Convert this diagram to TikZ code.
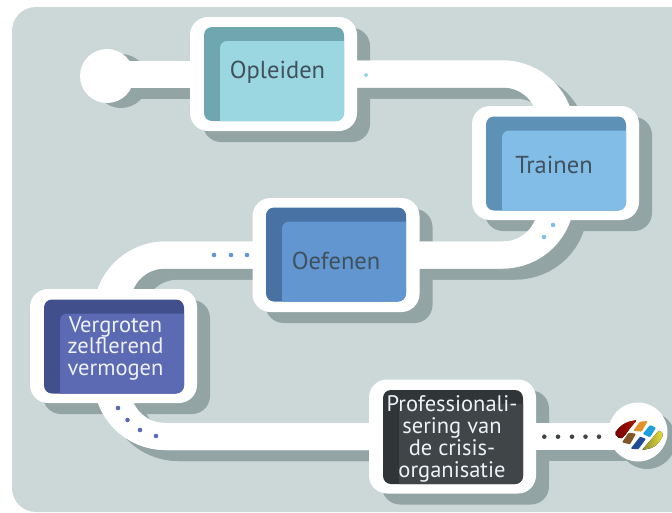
\documentclass[tikz,border=0pt]{standalone}
\usepackage{fontspec}
\setmainfont{PT Sans}
\pgfdeclarelayer{shad}
\pgfdeclarelayer{pipes}
\pgfsetlayers{shad,pipes,main}
\definecolor{bgc}{HTML}{CCD8D8}
\definecolor{shc}{HTML}{93A4A5}
\definecolor{tdark}{HTML}{3F515C}
\definecolor{twhite}{HTML}{EEF2F8}
\definecolor{aD}{HTML}{6FA6AF}\definecolor{aL}{HTML}{9BD7E0}
\definecolor{bD}{HTML}{5D91B5}\definecolor{bL}{HTML}{82BDE8}
\definecolor{cD}{HTML}{4872A3}\definecolor{cL}{HTML}{6296D0}
\definecolor{dD}{HTML}{41508C}\definecolor{dL}{HTML}{5C69B3}
\definecolor{eD}{HTML}{303537}\definecolor{eL}{HTML}{404548}
\tikzset{
  frame/.style={fill=white,rounded corners=18pt,minimum width=167pt,minimum height=114pt,inner sep=0pt,outer sep=0pt},
  card/.style 2 args={rounded corners=8pt,minimum width=140pt,minimum height=94pt,inner sep=0pt,outer sep=0pt,fill=#1,
    path picture={\fill[#2,rounded corners=7pt] ([shift={(16,14)}]path picture bounding box.north west) rectangle ([shift={(12,12)}]path picture bounding box.south east);}},
  lbl/.style={inner sep=0pt,outer sep=0pt,align=center,font=\fontsize{24.5}{21.5}\selectfont,text=#1},
  lblm/.style 2 args={inner sep=0pt,outer sep=0pt,align=center,font=\fontsize{22.5}{#2}\selectfont,text=#1},
  disc/.style={circle,fill=white,inner sep=0pt,outer sep=0pt,minimum size=#1},
  pipe/.style={line width=27pt},
  pipeA/.style={line width=27pt,rounded corners=48pt},
  pipeB/.style={line width=27pt,rounded corners=58pt},
  dotm/.style={circle,fill=#1,inner sep=0pt,outer sep=0pt,minimum size=4.6pt},
}
\newcommand{\allpipes}[1]{%
  \draw[pipe,#1] (start.center |- opleiden.center) -- (opleiden.center);
  \draw[pipeA,#1] (opleiden.center) -| ([xshift=-4.5pt]trainen.center);
  \draw[pipeB,#1] (opleiden.center) -| ([xshift=5.5pt]trainen.center);
  \draw[pipeA,#1] ([xshift=-4.5pt]trainen.center) |- (oefenen.center);
  \draw[pipeB,#1] ([xshift=5.5pt]trainen.center) |- (oefenen.center);
  \draw[pipeA,#1] (oefenen.center) -| ([xshift=3.5pt]vergroten.center);
  \draw[pipeB,#1] (oefenen.center) -| ([xshift=-6.5pt]vergroten.center);
  \draw[pipeA,#1] ([xshift=3.5pt]vergroten.center) |- (prof.center);
  \draw[pipeB,#1] ([xshift=-6.5pt]vergroten.center) |- (prof.center);
  \draw[pipe,#1] (prof.center) -- (eind.center |- prof.center);
}
\begin{document}
\begin{tikzpicture}[x=1pt,y=-1pt]
\useasboundingbox (0,0) rectangle (672,512);
\clip (0,0) rectangle (672,512);
% background
\begin{pgfonlayer}{shad}
\fill[bgc,rounded corners=24pt] (12,7) rectangle (720,512);
\end{pgfonlayer}
% frames
\node[frame] (opleiden) at (273.5,74) {};
\node[frame] (trainen) at (555.5,163) {};
\node[frame] (oefenen) at (336,255) {};
\node[frame] (vergroten) at (113.5,346) {};
\node[frame] (prof) at (452.5,436.5) {};
\node[disc=54pt] (start) at (107,76) {};
\node[disc=59pt] (eind) at (638,432) {};
% shadows
\begin{pgfonlayer}{shad}
\foreach \n in {opleiden,trainen,oefenen,vergroten,prof}{
  \fill[shc,rounded corners=18pt,transform canvas={shift={(13pt,-11pt)}}] (\n.south west) rectangle (\n.north east);
}
\fill[shc] (121,81) circle[radius=27];
\fill[shc] (647,440) circle[radius=29];
\begin{scope}[transform canvas={shift={(13pt,-11pt)}}]
\allpipes{shc}
\end{scope}
\end{pgfonlayer}
% connectors
\begin{pgfonlayer}{pipes}
\allpipes{white}
\end{pgfonlayer}
% cards
\node[card={aD}{aL}] (c1) at (274,74) {};
\node[card={bD}{bL}] (c2) at (556,163.5) {};
\node[card={cD}{cL}] (c3) at (336,254.5) {};
\node[card={dD}{dL}] (c4) at (114,346.5) {};
\node[card={eD}{eL}] (c5) at (453,437) {};
% labels
\node[lbl=tdark] (t1) at (277.5,72.5) {Opleiden};
\node[lbl=tdark] (t2) at (554,165) {Trainen};
\node[lbl=tdark] (t3) at (336,260.5) {Oefenen};
\node[lblm={twhite}{21.5}] (t4) at (115.5,348.5) {Vergroten\\zelflerend\\vermogen};
\node[lblm={twhite}{22}] (t5) at (452,439) {Professionali-\\sering van\\de crisis-\\organisatie};
% dots
\node[dotm=aL,minimum size=4pt] (d1) at (366,75) {};
\node[dotm=bL] (d2) at (553,225) {};
\node[dotm=bL] (d3) at (544,237) {};
\foreach \x/\i in {214/a,231/b,247/c}{\node[dotm=cL] (d4\i) at (\x,255) {};}
\node[dotm=dL] (d5) at (118,408) {};
\node[dotm=dL] (d6) at (127.5,420) {};
\node[dotm=dL] (d7) at (140,430) {};
\node[dotm=dL] (d8) at (156,436) {};
\foreach \x/\i in {544.3/a,558/b,572/c,585.5/d,599/e}{\node[dotm=eL] (d9\i) at (\x,436.7) {};}
% logo
\begin{scope}[shift={(600,400)},scale=1/3]
\fill[left color=red!45!black,right color=red!60!black!80!orange,rounded corners=2pt] (43,100) -- (62,78) -- (82,66) -- (111,60) -- (92,82) -- (72,110) -- (60,118) -- cycle;
\fill[color={rgb,255:red,226;green,146;blue,40},rounded corners=1pt] (100,92) -- (120,65) -- (143,63) -- (125,95) -- cycle;
\fill[color={rgb,255:red,30;green,160;blue,220},rounded corners=1pt] (128,102) -- (150,75) -- (168,83) -- (150,112) -- cycle;
\fill[left color={rgb,255:red,140;green,135;blue,50},right color={rgb,255:red,235;green,225;blue,60},rounded corners=2pt] (125,151) -- (152,120) -- (178,90) -- (191,103) -- (175,130) -- (158,143) -- cycle;
\fill[color={rgb,255:red,130;green,85;blue,35},rounded corners=1pt] (66,127) -- (86,98) -- (108,101) -- (90,133) -- cycle;
\fill[color={rgb,255:red,30;green,75;blue,150},rounded corners=1pt] (92,146) -- (120,110) -- (138,116) -- (115,148) -- cycle;
\end{scope}
\end{tikzpicture}
\end{document}
